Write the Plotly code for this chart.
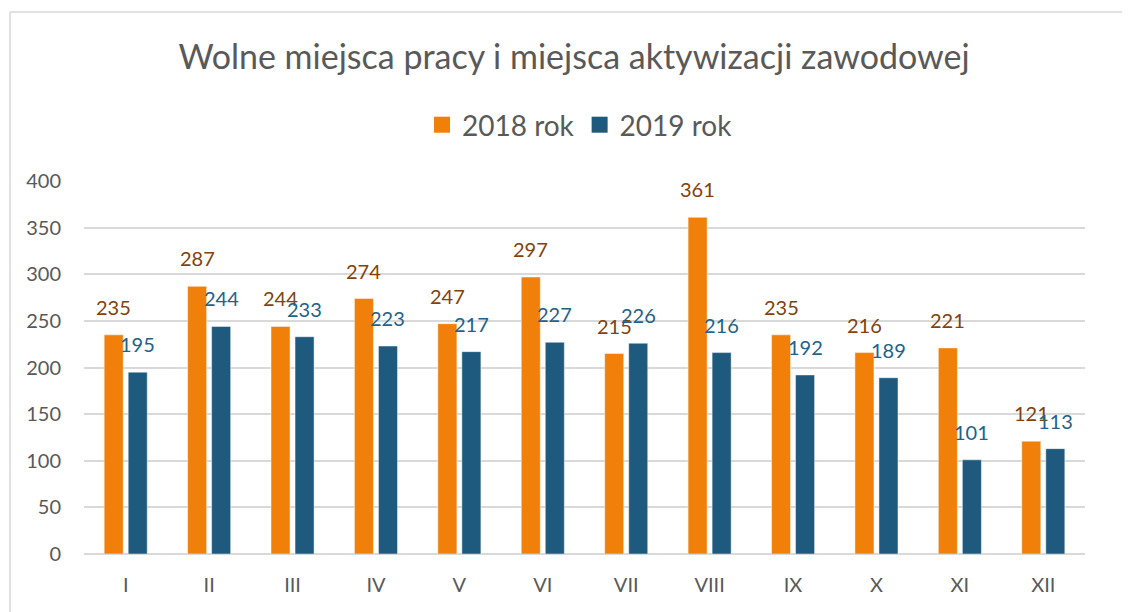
import plotly.graph_objects as go

months = ["I", "II", "III", "IV", "V", "VI", "VII", "VIII", "IX", "X", "XI", "XII"]
vals_2018 = [235, 287, 244, 274, 247, 297, 215, 361, 235, 216, 221, 121]
vals_2019 = [195, 244, 233, 223, 217, 227, 226, 216, 192, 189, 101, 113]
series_names = ["2018 rok", "2019 rok"]
y_ticks = [0, 50, 100, 150, 200, 250, 300, 350, 400]

ORANGE = "#F0800A"
BLUE = "#1E5A7E"
ORANGE_TXT = "#80420E"
BLUE_TXT = "#22628A"
GRAY = "#595959"
FONT = "Lato"

W, H = 1130, 612
OFF = 8  # page body margin
# target plot area in page pixels
PL, PR, PT, PB = 84, 1085, 181, 554
L = PL - OFF
T = PT - OFF
R = W - (PR - OFF)
B = H - (PB - OFF)
pw, ph = W - L - R, H - T - B


def px_to_paper_x(px):
    return (px - PL) / pw


def px_to_paper_y(py):
    return (PB - py) / ph


fig = go.Figure()
for name, vals, col in [(series_names[0], vals_2018, ORANGE), (series_names[1], vals_2019, BLUE)]:
    fig.add_trace(go.Bar(
        x=months, y=vals, name=name, showlegend=False,
        marker=dict(color=col, line=dict(color="rgba(255,255,255,0.45)", width=1)),
    ))
    # legend proxy
    fig.add_trace(go.Scatter(
        x=[None], y=[None], mode="markers", name=name,
        marker=dict(symbol="square", size=16, color=col),
    ))

annotations = []
for vals, shift, col in [(vals_2018, -12, ORANGE_TXT), (vals_2019, 12, BLUE_TXT)]:
    for m, v in zip(months, vals):
        annotations.append(dict(
            x=m, y=v, xref="x", yref="y", text=str(v), showarrow=False,
            xshift=shift, yshift=14, yanchor="bottom",
            font=dict(family=FONT, size=20, color=col),
        ))

shapes = [
    dict(type="line", xref="paper", yref="paper",
         x0=px_to_paper_x(10), x1=px_to_paper_x(W + 20),
         y0=px_to_paper_y(12), y1=px_to_paper_y(12),
         line=dict(color="#D9D9D9", width=1.5)),
    dict(type="line", xref="paper", yref="paper",
         x0=px_to_paper_x(10), x1=px_to_paper_x(10),
         y0=px_to_paper_y(12), y1=px_to_paper_y(H + 20),
         line=dict(color="#D9D9D9", width=1.5)),
]

fig.update_layout(
    width=W, height=H,
    margin=dict(l=L, r=R, t=T, b=B),
    paper_bgcolor="white", plot_bgcolor="white",
    font=dict(family=FONT, color=GRAY),
    title=dict(text="Wolne miejsca pracy i miejsca aktywizacji zawodowej",
               x=(574 - OFF) / W, xanchor="center", y=1 - (57 - OFF) / H, yanchor="middle",
               font=dict(family=FONT, size=34, color=GRAY)),
    barmode="group", bargap=0.424, bargroupgap=0.208,
    legend=dict(orientation="h", x=px_to_paper_x(580), xanchor="center",
                y=px_to_paper_y(125), yanchor="middle",
                font=dict(family=FONT, size=28, color=GRAY),
                bgcolor="rgba(0,0,0,0)"),
    annotations=annotations,
    shapes=shapes,
    xaxis=dict(showgrid=False, showline=False, zeroline=False,
               ticks="outside", ticklen=13, tickcolor="rgba(0,0,0,0)",
               tickfont=dict(family=FONT, size=20, color=GRAY)),
    yaxis=dict(range=[0, 400], tickvals=y_ticks, showgrid=True,
               gridcolor="#D9D9D9", gridwidth=1.5, zeroline=True,
               zerolinecolor="#D9D9D9", zerolinewidth=1.5, showline=False,
               ticks="outside", ticklen=18, tickcolor="rgba(0,0,0,0)",
               tickfont=dict(family=FONT, size=20, color=GRAY)),
)

fig.write_html("out.html")
